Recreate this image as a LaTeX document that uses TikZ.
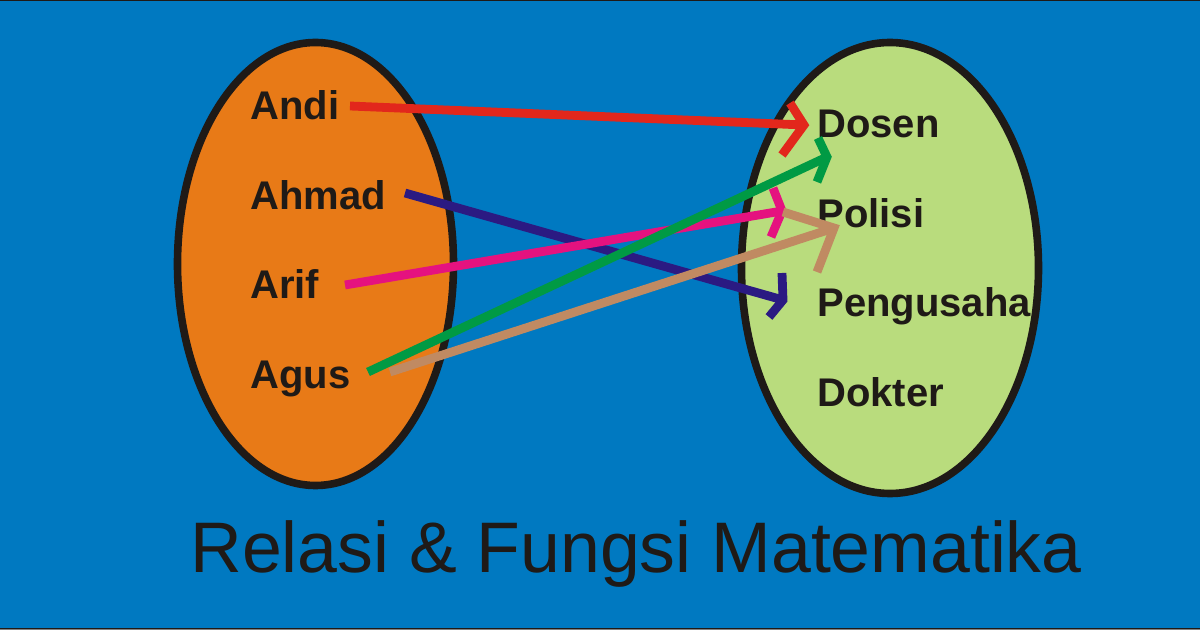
\documentclass[tikz,border=0pt]{standalone}
\usepackage{fontspec}
\usetikzlibrary{calc}
\setmainfont{Liberation Sans}
\definecolor{bgblue}{HTML}{0079C1}
\definecolor{setorange}{HTML}{E87A17}
\definecolor{setgreen}{HTML}{B9DC7D}
\definecolor{inkdark}{HTML}{1F1A17}
\definecolor{arrred}{HTML}{E2271C}
\definecolor{arrnavy}{HTML}{2B1A82}
\definecolor{arrpink}{HTML}{E5127F}
\definecolor{arrgreen}{HTML}{009A44}
\definecolor{arrtan}{HTML}{C08A62}
\tikzset{
  setshape/.style={draw=inkdark,line width=3.8pt},
  namelabel/.style={anchor=base west,inner sep=0pt,text=inkdark,font=\fontsize{20}{24}\selectfont\bfseries},
  titlelabel/.style={anchor=base west,inner sep=0pt,text=inkdark,font=\fontsize{35.8}{42}\selectfont},
  maplink/.style={line width=4.4pt,line cap=butt,miter limit=10}
}
\begin{document}
\begin{tikzpicture}[x=0.5pt,y=-0.5pt]
  \useasboundingbox (0,0) rectangle (1200,630);
  \fill[bgblue] (0,0) rectangle (1200,630);
  \fill[inkdark] (0,0) rectangle (1200,1);
  \fill[inkdark] (0,628) rectangle (1200,629);
  \fill[gray] (0,629) rectangle (1200,630);
  % the two sets
  \filldraw[setshape,fill=setorange] (315.5,264) ellipse [x radius=138,y radius=221.5];
  \filldraw[setshape,fill=setgreen] (890,268) ellipse [x radius=148.5,y radius=225.5];
  \def \Nodes{
    Andi/250/120,
    Ahmad/250/210,
    Arif/250/299,
    Agus/250/389,
    Dosen/817/138,
    Polisi/817/228,
    Pengusaha/817/317,
    Dokter/817/407}
  \foreach \id / \x / \y in \Nodes{
    \node[namelabel] (\id) at (\x, \y) {\id};
  }
  \node[titlelabel] (title) at (190, 573) {Relasi \& Fungsi Matematika};
  % free ends of the links
  \def \Ends{
    andiS/350/106,
    ahmadS/405/193,
    arifS/345/285,
    agusS/368/372,
    agusT/390/372,
    dosenA/804/125,
    dosenB/827/157,
    polisiA/782/211,
    polisiB/834/228,
    pengusahaA/783/300}
  \foreach \id / \x / \y in \Ends{
    \coordinate (\id) at (\x, \y);
  }
  \def \Edges{
    andiS/dosenA/-14/-22/-22/30/arrred,
    ahmadS/pengusahaA/-1/-27/-14/17/arrnavy,
    arifS/polisiA/-9/-23/-11/26/arrpink,
    agusT/polisiB/-51/-16/-17/44/arrtan,
    agusS/dosenB/-9/-19/-10/25/arrgreen}
  \foreach \a / \b / \ux / \uy / \vx / \vy / \c in \Edges{
    \draw[maplink,\c] (\a) -- (\b);
    \draw[maplink,\c] ($(\b)+(\ux,\uy)$) -- (\b) -- ($(\b)+(\vx,\vy)$);
  }
\end{tikzpicture}
\end{document}
